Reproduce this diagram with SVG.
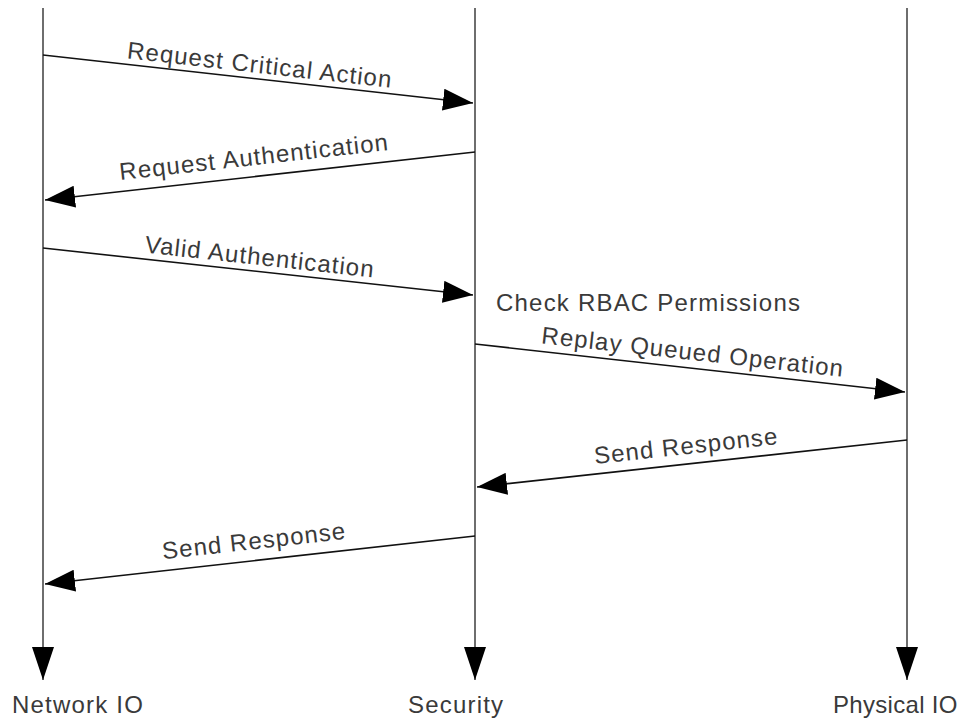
<svg xmlns="http://www.w3.org/2000/svg" width="967" height="719" viewBox="0 0 967 719">
<style>
.life{stroke:#6e6e6e;stroke-width:2;fill:none}
.msg{stroke:#111;stroke-width:1.6;fill:none}
.lbl{font-family:"Liberation Sans",Arial,sans-serif;font-size:24px;letter-spacing:1.2px;fill:#3a3a3a}
.mt{font-family:"Liberation Sans",Arial,sans-serif;font-size:24px;letter-spacing:1.1px;fill:#3a3a3a;text-anchor:middle}
</style>
<defs>
<marker id="ah" markerUnits="userSpaceOnUse" markerWidth="32" markerHeight="22" refX="30" refY="11" orient="auto">
<path d="M0,0 L30,11 L0,22 z" fill="#000"/>
</marker>
<marker id="lh" markerUnits="userSpaceOnUse" markerWidth="34" markerHeight="22" refX="33" refY="11" orient="auto">
<path d="M0,0 L33,11 L0,22 z" fill="#000"/>
</marker>
</defs>
<g id="lifeline-network">
<line class="life" x1="43" y1="8" x2="43" y2="680" marker-end="url(#lh)"/>
<text class="lbl" x="12" y="713">Network IO</text>
</g>
<g id="lifeline-security">
<line class="life" x1="475" y1="8" x2="475" y2="680" marker-end="url(#lh)"/>
<text class="lbl" x="408" y="713">Security</text>
</g>
<g id="lifeline-physical">
<line class="life" x1="907" y1="8" x2="907" y2="680" marker-end="url(#lh)"/>
<text class="lbl" x="833" y="713" style="letter-spacing:0.3px">Physical IO</text>
</g>
<g id="note-rbac">
<text class="lbl" x="496" y="311">Check RBAC Permissions</text>
</g>
<g id="connectors">
<line class="msg" x1="43" y1="55" x2="473" y2="103" marker-end="url(#ah)"/>
<text class="mt" transform="translate(259,73) rotate(6.37)">Request Critical Action</text>
<line class="msg" x1="475" y1="152" x2="45" y2="200" marker-end="url(#ah)"/>
<text class="mt" transform="translate(255,165) rotate(-6.37)">Request Authentication</text>
<line class="msg" x1="43" y1="248" x2="473" y2="295" marker-end="url(#ah)"/>
<text class="mt" transform="translate(259,265) rotate(6.24)">Valid Authentication</text>
<line class="msg" x1="475" y1="344" x2="905" y2="392" marker-end="url(#ah)"/>
<text class="mt" transform="translate(692,360) rotate(6.37)">Replay Queued Operation</text>
<line class="msg" x1="907" y1="440" x2="477" y2="487" marker-end="url(#ah)"/>
<text class="mt" transform="translate(687,454) rotate(-6.24)">Send Response</text>
<line class="msg" x1="475" y1="536" x2="45" y2="584" marker-end="url(#ah)"/>
<text class="mt" transform="translate(255,549) rotate(-6.37)">Send Response</text>
</g>
</svg>
